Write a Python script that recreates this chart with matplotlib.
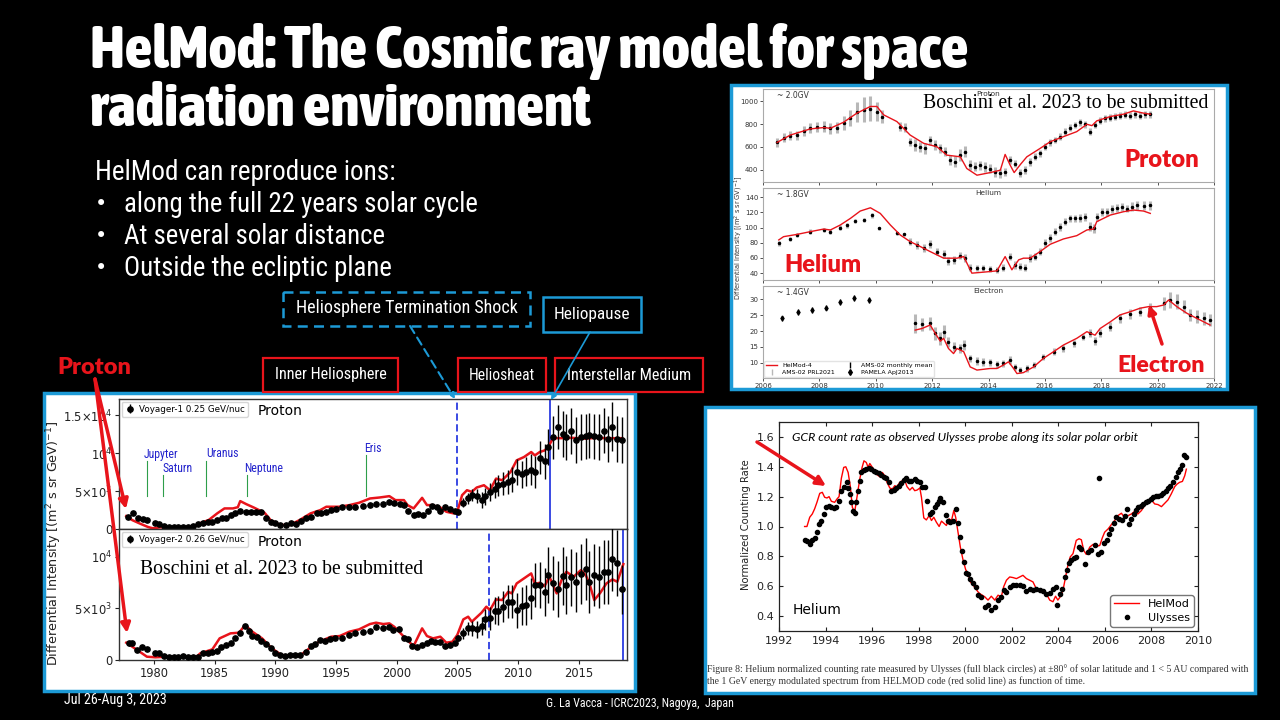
import matplotlib
matplotlib.use('Agg')
import matplotlib.pyplot as plt
from matplotlib.lines import Line2D
from matplotlib.patches import Rectangle
from matplotlib import font_manager
from matplotlib.font_manager import FontProperties

# ---------------- data ----------------
# Voyager-1 (0.25 GeV/nuc)
v1_yr = [1977.87,1978.28,1978.7,1979.04,1979.37,1980.06,1980.4,1980.8,1981.2,1981.6,
         1982.0,1982.4,1982.8,1983.2,1983.6,1984.0,1984.4,1984.8,1985.2,1985.6,
         1985.9,1986.3,1986.7,1987.1,1987.6,1988.0,1988.4,1988.8,1989.2,1989.6,
         1990.0,1990.4,1990.9,1991.3,1991.7,1992.1,1992.5,1992.9,1993.4,1993.8,
         1994.2,1994.6,1995.0,1995.5,1996.1,1996.6,1997.2,1997.8,1998.3,1998.9,
         1999.4,1999.8,2000.3,2000.6,2000.9,2001.4,2001.8,2002.2,2002.6,2002.9,
         2003.3,2003.6,2004.0,2004.4,2004.8,2005.1,2005.5,2005.9,2006.2,2006.6,
         2007.0,2007.3,2007.7,2008.1,2008.4,2008.8,2009.2,2009.5,2009.9,2010.3,
         2010.7,2011.1,2011.4,2011.8,2012.2,2012.5,2012.9,2013.3,2013.7,2014.0,
         2014.4,2014.8,2015.2,2015.6,2015.9,2016.3,2016.7,2017.1,2017.4,2017.8,
         2018.2,2018.6]
v1_val = [1650,2090,1520,1390,1220,780,700,435,350,350,
          350,350,350,435,650,870,910,1000,1220,1435,
          1520,1870,2175,2390,2300,2300,2300,2300,1435,1000,
          780,565,565,870,700,1130,1435,1650,2175,2175,
          2260,2520,2700,2870,2960,2960,3090,3175,3300,3300,
          3610,3390,3300,3175,2435,1870,2000,1870,2435,3045,
          2870,2435,2870,2610,2435,2300,3480,4045,4480,4350,
          3830,4350,4915,5350,5785,6000,6220,6525,7525,7220,
          7525,7830,7525,9400,8960,10790,12090,13400,12530,12090,
          12880,11750,12090,12180,12310,12180,12090,12960,11880,13480,
          11880,11750]
v1_err = [200,200,200,200,200,150,150,150,150,150,
          150,150,150,150,150,150,150,150,150,150,
          150,150,150,150,150,150,150,150,150,150,
          150,150,150,150,150,150,150,150,150,150,
          150,150,150,150,150,150,150,150,150,150,
          150,150,150,150,150,150,150,150,150,150,
          150,150,150,150,150,300,600,700,800,900,
          1000,1100,1200,1300,1400,1500,1600,1600,1700,1800,
          1900,2000,2100,2200,2300,2400,2800,2900,3000,3000,
          3000,3000,3000,3000,3000,3000,3000,3000,3000,3200,
          3000,3000]
v1m_yr = [1977.7,1978.2,1978.9,1979.5,1979.9,1980.5,1981.5,1982.5,1983.3,1983.9,
          1984.5,1985.2,1985.8,1986.5,1986.9,1987.1,1987.6,1988.2,1989.1,1989.6,
          1990.4,1991.2,1992.0,1992.9,1993.7,1994.2,1995.3,1996.1,1996.9,1997.8,
          1998.6,1999.4,1999.9,2000.6,2000.9,2001.4,2002.1,2002.5,2002.9,2003.6,
          2004.1,2004.7,2005.0,2005.4,2005.8,2006.2,2006.6,2007.2,2007.7,2008.2,
          2008.7,2009.4,2009.9,2010.5,2011.1,2011.4,2011.8,2012.2,2012.5,2012.9,
          2013.5,2014.5,2015.5,2016.5,2017.5,2018.6]
v1m_val = [1740,1200,700,300,130,260,260,260,435,870,
           1220,2090,2740,2740,2900,3700,3300,2870,2175,1220,
           565,565,1220,2090,2520,2960,2960,3175,3480,4045,
           4175,4350,3830,3830,3175,2740,4130,3175,3175,2870,
           2300,2090,2300,4480,5130,4915,5480,5785,5130,6655,
           6440,7525,9050,9480,10140,9700,10140,10350,10790,11960,
           11960,12000,11900,12000,11950,11960]

# Voyager-2 (0.26 GeV/nuc)
v2_yr = [1977.9,1978.2,1978.6,1979.0,1979.4,1980.1,1980.4,1980.8,1981.2,1981.6,
         1982.0,1982.4,1982.8,1983.2,1983.6,1984.0,1984.4,1984.8,1985.2,1985.5,
         1985.9,1986.3,1986.7,1987.1,1987.5,1987.8,1988.1,1988.5,1988.8,1989.2,
         1989.6,1990.0,1990.4,1990.8,1991.2,1991.6,1992.0,1992.5,1992.9,1993.3,
         1993.7,1994.1,1994.5,1994.9,1995.5,1996.1,1996.6,1997.2,1997.8,1998.3,
         1998.9,1999.4,1999.7,2000.2,2000.6,2000.9,2001.3,2001.7,2002.1,2002.5,
         2002.8,2003.2,2003.6,2004.0,2004.4,2004.8,2005.1,2005.5,2005.9,2006.2,
         2006.6,2007.0,2007.3,2007.7,2008.1,2008.4,2008.8,2009.2,2009.5,2009.9,
         2010.3,2010.7,2011.1,2011.4,2011.8,2012.2,2012.5,2012.9,2013.3,2013.7,
         2014.0,2014.4,2014.8,2015.2,2015.6,2015.9,2016.3,2016.7,2017.1,2017.4,
         2017.8,2018.2,2018.6]
v2_val = [1610,1610,970,1225,1030,710,710,390,260,320,
          320,390,320,320,320,645,710,805,900,1290,
          1450,1610,2095,2580,3290,2835,2320,2190,1870,1545,
          1130,710,485,390,450,450,485,805,1355,1545,
          1935,1870,2000,2095,2095,2420,2580,2740,2835,3160,
          3060,3160,2900,2965,2095,2000,1355,1290,1450,1610,
          1870,1710,1770,1355,1450,1610,2095,2580,3060,3060,
          2965,3290,3930,4030,4770,4770,5160,5640,5640,4830,
          5220,5320,5960,7250,7250,6600,8220,7480,6865,8120,
          7250,7990,7570,8315,8770,7570,8220,7990,8540,8540,
          9735,9350,6830]
v2_err = [250,200,200,200,200,200,200,200,200,200,
          200,200,200,200,200,200,200,200,200,200,
          200,200,200,200,200,200,200,200,200,200,
          200,200,200,200,200,200,200,200,200,200,
          200,200,200,200,200,200,200,200,200,200,
          200,200,200,200,200,200,200,200,200,200,
          200,200,200,200,200,200,300,500,600,700,
          800,900,1000,1100,1300,1400,1500,1600,1600,1700,
          1800,1900,2000,2100,2200,2300,2700,2600,2700,2800,
          2800,2800,2900,2900,3000,3000,3000,3000,3100,3100,
          3100,3200,2400]
v2m_yr = [1977.7,1978.6,1979.4,1980.1,1981.0,1983.5,1983.8,1984.8,1985.4,1986.3,
          1987.0,1987.5,1988.1,1988.9,1989.7,1990.5,1991.3,1992.1,1992.8,1993.6,
          1994.6,1995.3,1996.1,1996.9,1997.8,1998.3,1998.9,1999.4,1999.8,2000.2,
          2000.8,2001.4,2002.1,2002.5,2003.0,2003.6,2004.1,2004.6,2005.0,2005.5,
          2005.9,2006.2,2007.0,2007.4,2007.7,2008.2,2008.7,2009.2,2009.5,2009.9,
          2011.1,2011.4,2011.8,2012.2,2012.6,2013.2,2013.6,2014.0,2014.6,2015.2,
          2015.6,2015.9,2016.3,2016.8,2017.3,2017.8,2018.2,2018.7]
v2m_val = [1675,970,320,260,320,320,645,1030,2095,2580,
           2640,3385,2740,2095,1130,485,390,485,1130,1770,
           2255,2320,2740,2965,3480,3610,3480,3545,3220,2740,
           2000,1355,3060,2320,2095,2255,1675,1770,2420,3930,
           4190,3705,4575,5160,4830,5865,5800,6600,6445,7410,
           8380,7350,7480,7150,8060,6445,7735,8540,8060,8700,
           8220,7410,5800,6510,7410,7800,7570,9280]

planet_names = ['Jupyter', 'Saturn', 'Uranus', 'Neptune', 'Eris']
planet_years = [1979.4, 1980.75, 1984.3, 1987.66, 1997.45]

# AMS-02 / PAMELA (top-right)
p_yr = [2006.5,2006.73,2006.97,2007.2,2007.44,2007.68,2007.91,2008.15,2008.39,2008.62,
        2008.86,2009.1,2009.33,2009.57,2009.81,2010.04,2010.22,2010.87,2011.05,2011.22,
        2011.4,2011.58,2011.76,2011.93,2012.11,2012.29,2012.47,2012.64,2012.82,2013.0,
        2013.17,2013.35,2013.53,2013.71,2013.88,2014.06,2014.24,2014.42,2014.59,2014.77,
        2014.95,2015.13,2015.3,2015.48,2015.66,2015.83,2016.01,2016.19,2016.37,2016.54,
        2016.72,2016.9,2017.08,2017.25,2017.43,2017.61,2017.78,2017.96,2018.14,2018.32,
        2018.49,2018.67,2018.85,2019.03,2019.2,2019.38,2019.56,2019.74]
p_val = [639,681,699,704,740,764,778,778,764,770,
         808,852,905,926,935,911,867,778,770,645,
         616,601,586,660,616,586,557,483,468,527,
         557,438,424,438,424,409,379,365,379,483,
         453,373,394,468,512,542,601,639,660,690,
         734,770,793,817,799,734,793,829,852,858,
         867,876,882,876,888,876,888,888]
p_err = [40,40,40,40,45,45,45,50,50,50,
         60,70,90,110,110,80,60,40,40,35,
         50,45,45,40,45,40,40,45,50,50,
         50,45,40,40,45,40,45,40,35,35,
         35,35,35,35,30,30,30,30,30,30,
         30,30,30,30,30,30,30,30,30,30,
         30,30,30,30,30,30,30,30]
pm_yr = [2006.5,2006.97,2007.68,2008.15,2008.39,2008.86,2009.33,2009.81,2010.04,2010.28,
         2010.75,2011.22,2011.7,2012.17,2012.52,2013.0,2013.23,2013.59,2014.06,2014.42,
         2014.59,2014.77,2014.91,2015.13,2015.36,2015.83,2016.19,2016.66,2017.13,2017.49,
         2017.67,2017.84,2018.32,2018.79,2019.14,2019.5,2019.74]
pm_val = [639,704,758,770,764,817,897,956,956,882,
          823,704,631,601,527,512,409,350,373,394,
          533,438,373,444,512,586,645,690,734,799,
          787,829,867,888,917,897,888]

h_yr = [2006.56,2006.97,2007.21,2007.68,2008.15,2008.39,2008.74,2008.98,2009.27,2009.57,
        2009.87,2010.1,2010.75,2010.99,2011.22,2011.46,2011.7,2011.93,2012.17,2012.41,
        2012.58,2012.76,2013.0,2013.17,2013.35,2013.59,2013.82,2014.06,2014.3,2014.53,
        2014.77,2014.95,2015.13,2015.3,2015.48,2015.66,2015.83,2016.01,2016.19,2016.37,
        2016.54,2016.72,2016.9,2017.08,2017.25,2017.43,2017.61,2017.73,2017.84,2018.02,
        2018.2,2018.38,2018.55,2018.73,2018.91,2019.09,2019.26,2019.5,2019.74]
h_val = [79.3,85,90,94.6,96.8,94.6,99.8,103,108.6,110,
         116,99,92.4,91,81.5,77,72.7,78,68.4,65,
         56.2,57.5,63,59.7,47.4,46.5,46.5,45.7,44.4,47.4,
         61.8,51,48.7,47.4,59.7,61.8,68.4,79.3,85.9,94.6,
         101,107.7,112,112,112.9,114,101,99,114,120.8,
         120.8,124.3,126,127.3,125,127.3,129.5,128.6,129.5]
h_err = [3,3,3,3,3,3,3,3,3,3,
         3,2,2,2,5,5,5,5,5,5,
         5,5,5,5,4,4,4,4,4,4,
         5,5,5,5,5,5,5,5,5,5,
         5,5,5,5,5,5,6,6,5,5,
         5,5,5,5,5,6,6,6,6]
hm_yr = [2006.56,2006.73,2007.21,2007.68,2008.15,2008.39,2008.74,2009.1,2009.45,2009.81,
         2010.16,2010.52,2010.87,2011.22,2011.58,2011.93,2012.41,2012.88,2013.12,2013.41,
         2013.82,2014.3,2014.59,2014.83,2015.07,2015.24,2015.48,2015.83,2016.19,2016.66,
         2017.13,2017.49,2017.73,2017.84,2018.32,2018.79,2019.14,2019.5,2019.74]
hm_val = [83.7,88,91,94.6,98,96.8,103.3,112,121.7,126,
          118.6,103.3,90.2,81.5,75,68.4,59.7,59.7,61.8,40,
          41.3,43,61.8,44.4,57.5,59.7,59.7,68.4,78,85,
          89.3,96.8,98,107.7,116.4,120.8,123,121.7,118.6]

pam_e_yr = [2006.67,2007.23,2007.74,2008.25,2008.74,2009.24,2009.75]
pam_e_val = [24.0,26.1,26.6,27.4,29.1,30.5,29.8]
pam_e_err = [0.9,0.9,0.9,0.9,0.9,0.9,0.9]
e_yr = [2011.40,2011.64,2011.93,2012.11,2012.29,2012.41,2012.58,2012.76,2013.0,2013.12,
        2013.35,2013.59,2013.82,2014.06,2014.3,2014.53,2014.77,2014.95,2015.13,2015.36,
        2015.6,2015.95,2016.31,2016.66,2017.02,2017.37,2017.61,2017.78,2017.96,2018.32,
        2018.67,2019.03,2019.38,2019.74,2020.21,2020.44,2020.68,2020.92,2021.15,2021.39,
        2021.63,2021.86]
e_val = [22.4,22.1,22.4,19.3,17.7,19.8,16.6,15.1,14.5,15.6,
         11.4,10.5,10.3,10.1,9.5,9.8,10.8,8.7,7.7,8.2,
         9.3,11.9,13.5,14.5,16.1,18.2,19.3,16.8,19.3,21.4,
         24.0,25.3,26.1,27.4,28.7,29.8,29.3,27.7,25.1,24.5,
         24.0,23.5]
e_err = [3.0,2.0,2.0,2.0,2.0,2.0,1.5,1.5,1.5,1.5,
         1.2,1.2,1.2,1.2,1.2,1.2,1.2,1.0,1.0,1.0,
         1.0,1.0,1.0,1.0,1.0,1.0,1.2,1.2,1.2,1.3,
         1.5,1.5,1.5,1.5,2.0,2.5,2.5,2.0,2.0,2.0,
         2.0,2.0]
em_yr = [2011.4,2011.64,2011.93,2012.11,2012.29,2012.41,2012.58,2012.76,2012.88,2013.12,
         2013.35,2013.59,2014.06,2014.3,2014.53,2014.71,2014.89,2015.01,2015.24,2015.6,
         2015.95,2016.31,2016.66,2017.13,2017.49,2017.78,2017.96,2018.32,2018.67,2019.03,
         2019.38,2019.68,2019.97,2020.21,2020.39,2020.68,2021.04,2021.39,2021.75,2021.86]
em_val = [20.3,20.8,21.9,19.3,16.8,17.7,14.5,12.9,14.5,13.5,
          8.7,7.7,8.2,8.2,9.3,10.3,8.2,6.6,6.9,8.7,
          11.4,13.5,15.6,17.7,19.8,18.7,20.8,22.9,25.1,26.1,
          27.2,27.7,27.7,28.2,29.8,27.7,25.6,24.0,22.4,21.9]

# Ulysses helium counting rate
uo_yr = [1993.10,1993.2,1993.32,1993.43,1993.53,1993.63,1993.72,1993.82,1993.92,1994.03,
         1994.15,1994.25,1994.35,1994.46,1994.58,1994.68,1994.78,1994.9,1994.97,1995.04,
         1995.11,1995.18,1995.25,1995.32,1995.4,1995.47,1995.54,1995.64,1995.75,1995.87,
         1995.97,1996.07,1996.18,1996.3,1996.4,1996.5,1996.61,1996.73,1996.83,1996.93,
         1997.04,1997.16,1997.26,1997.36,1997.47,1997.59,1997.69,1997.83,1997.93,1998.05,
         1998.16,1998.26,1998.36,1998.48,1998.59,1998.69,1998.79,1998.88,1998.93,1999.05,
         1999.16,1999.26,1999.36,1999.48,1999.59,1999.69,1999.79,1999.88,1999.94,2000.02,
         2000.12,2000.22,2000.34,2000.45,2000.55,2000.69,2000.83,2000.98,2001.12,2001.27,
         2001.41,2001.55,2001.65,2001.77,2001.91,2002.05,2002.2,2002.34,2002.48,2002.63,
         2002.77,2002.91,2003.05,2003.2,2003.34,2003.48,2003.63,2003.77,2003.88,2003.94,
         2004.06,2004.17,2004.27,2004.37,2004.46,2004.56,2004.66,2004.78,2004.89,2004.99,
         2005.14,2005.28,2005.42,2005.57,2005.71,2005.75,2005.85,2005.95,2006.07,2006.18,
         2006.28,2006.38,2006.49,2006.61,2006.75,2006.85,2006.93,2007.04,2007.14,2007.24,
         2007.33,2007.43,2007.53,2007.65,2007.76,2007.86,2007.96,2008.08,2008.19,2008.29,
         2008.39,2008.5,2008.61,2008.71,2008.81,2008.93,2009.04,2009.14,2009.24,2009.33,
         2009.39,2009.48]
uo_val = [0.911,0.902,0.88,0.907,0.924,0.962,1.018,1.036,1.084,1.129,
          1.14,1.133,1.124,1.133,1.173,1.236,1.267,1.296,1.258,1.218,
          1.162,1.107,1.089,1.162,1.24,1.307,1.362,1.378,1.384,1.391,
          1.384,1.373,1.362,1.356,1.347,1.333,1.324,1.296,1.236,1.244,
          1.258,1.273,1.289,1.311,1.324,1.307,1.302,1.318,1.307,1.296,
          1.267,1.267,1.173,1.084,1.096,1.133,1.151,1.173,1.191,1.162,
          1.08,1.036,1.029,1.036,1.118,1.022,0.933,0.836,0.762,0.689,
          0.684,0.651,0.622,0.596,0.54,0.529,0.462,0.473,0.44,0.462,
          0.507,0.529,0.573,0.562,0.596,0.607,0.607,0.607,0.6,0.569,
          0.578,0.573,0.584,0.573,0.569,0.551,0.556,0.578,0.596,0.473,
          0.551,0.578,0.662,0.707,0.756,0.778,0.791,0.796,0.862,0.851,
          0.751,0.829,0.84,0.873,0.818,1.324,0.829,0.889,0.911,0.951,
          0.984,1.022,1.062,1.051,1.044,1.073,1.118,1.018,1.051,1.084,
          1.111,1.129,1.14,1.151,1.162,1.173,1.184,1.196,1.207,1.207,
          1.213,1.222,1.24,1.258,1.273,1.296,1.329,1.362,1.384,1.413,
          1.48,1.467]
um_yr = [1993.10,1993.20,1993.32,1993.43,1993.53,1993.63,1993.75,1993.86,1993.96,1994.06,
         1994.15,1994.25,1994.39,1994.49,1994.58,1994.68,1994.78,1994.87,1994.97,1995.07,
         1995.15,1995.25,1995.35,1995.47,1995.57,1995.65,1995.75,1995.83,1995.9,1996.01,
         1996.11,1996.21,1996.33,1996.44,1996.54,1996.64,1996.76,1996.87,1996.97,1997.07,
         1997.19,1997.3,1997.4,1997.5,1997.62,1997.73,1997.83,1997.93,1998.05,1998.12,
         1998.22,1998.33,1998.45,1998.55,1998.65,1998.76,1998.88,1998.98,1999.08,1999.19,
         1999.31,1999.41,1999.51,1999.59,1999.69,1999.79,1999.91,2000.02,2000.12,2000.22,
         2000.34,2000.45,2000.55,
         2000.62,2000.84,2000.98,2001.12,2001.27,2001.41,2001.55,2001.65,2001.77,2001.91,
         2002.05,2002.2,2002.34,2002.48,2002.63,2002.77,2002.91,2003.05,2003.2,2003.34,
         2003.48,2003.63,2003.77,2003.88,2003.98,2004.08,2004.2,2004.31,2004.41,2004.51,
         2004.63,2004.77,2004.89,2004.99,2005.09,2005.2,2005.35,2005.49,2005.63,2005.78,
         2005.89,2005.99,2006.14,2006.28,2006.42,2006.56,2006.71,2006.85,2007.0,2007.14,
         2007.28,2007.42,2007.57,2007.71,2007.85,2008.0,2008.14,2008.28,2008.43,2008.57,
         2008.71,2008.85,2009.0,2009.1,2009.21,2009.33,2009.43,2009.5]
um_val = [1.0,1.0,1.062,1.084,1.118,1.162,1.222,1.229,1.196,1.191,
          1.2,1.169,1.162,1.184,1.2,1.324,1.396,1.4,1.362,1.262,
          1.129,1.096,1.196,1.318,1.396,1.44,1.429,1.396,1.422,1.396,
          1.373,1.347,1.333,1.362,1.34,1.296,1.258,1.251,1.273,1.267,
          1.296,1.307,1.311,1.267,1.244,1.262,1.24,1.244,1.258,1.196,
          1.058,1.044,1.073,1.04,1.062,1.029,1.0,1.036,1.022,1.007,
          1.051,1.04,1.107,1.062,0.962,0.862,0.773,0.711,0.684,0.629,
          0.607,0.584,0.562,
          0.551,0.529,0.507,0.533,0.507,0.54,0.529,0.596,0.64,0.662,
          0.658,0.651,0.662,0.673,0.651,0.64,0.629,0.584,0.573,0.556,
          0.551,0.507,0.496,0.533,0.507,0.529,0.573,0.662,0.74,0.796,
          0.818,0.907,0.918,0.911,0.84,0.813,0.862,0.88,0.867,0.873,
          0.924,0.962,0.984,1.013,1.04,1.073,1.089,1.058,1.073,1.084,
          1.102,1.084,1.107,1.14,1.173,1.178,1.151,1.147,1.133,1.156,
          1.178,1.218,1.267,1.284,1.296,1.302,1.34,1.384]

# ---------------- fonts ----------------
CONDENSED = ('condensed', 'semi-condensed', 'extra-condensed', 'ultra-condensed')


def _weight(f):
    w = f.weight
    if isinstance(w, str):
        w = font_manager.weight_dict.get(w, 400)
    return w


def pick_narrow(bold):
    pref = ['Liberation Sans Narrow', 'Roboto Condensed', 'Open Sans Condensed',
            'Noto Sans', 'DejaVu Sans', 'Roboto', 'Open Sans', 'Lato', 'Inter']
    best, best_score = None, None
    for f in font_manager.fontManager.ttflist:
        if f.style != 'normal':
            continue
        nm = f.name + ' ' + f.fname
        cond = (f.stretch in CONDENSED) or ('Narrow' in nm) or ('Condensed' in nm) \
            or ('Cond' in nm)
        if not cond:
            continue
        w = _weight(f)
        fam_rank = next((i for i, p in enumerate(pref) if f.name.startswith(p)), len(pref))
        if bold:
            score = (0 if w >= 700 else 1, -w if w <= 800 else w, fam_rank)
        else:
            score = (abs(w - 400), fam_rank)
        if best_score is None or score < best_score:
            best, best_score = f, score
    if best is None:
        return FontProperties(family='DejaVu Sans', weight='bold' if bold else 'normal')
    return FontProperties(fname=best.fname)


NARROW = pick_narrow(False)
NARROWB = pick_narrow(True)
names = {f.name for f in font_manager.fontManager.ttflist}
SERIF = 'Liberation Serif' if 'Liberation Serif' in names else 'DejaVu Serif'
BOLDF = 'Lato' if 'Lato' in names else 'DejaVu Sans'

RED = '#e8141b'
BLUE = '#1c9ad6'
W, H = 1280, 720

fig = plt.figure(figsize=(12.8, 7.2), dpi=100, facecolor='black')
renderer = fig.canvas.get_renderer()


def fit(t, size):
    """scale font so the text spans `size` pixels (width, or height if rotated)."""
    bb = t.get_window_extent(renderer)
    cur = bb.height if t.get_rotation() in (90, 270) else bb.width
    if cur > 0:
        t.set_fontsize(t.get_fontsize() * size / cur)
    return t


def frect(x0, y0, x1, y1):
    return [x0 / W, 1 - y1 / H, (x1 - x0) / W, (y1 - y0) / H]


def pairs(a, b):
    n = min(len(a), len(b))
    return a[:n], b[:n]


# background panels
bg = fig.add_axes([0, 0, 1, 1], zorder=0)
bg.set_xlim(0, W); bg.set_ylim(H, 0); bg.axis('off')
for (x0, y0, x1, y1) in [(44, 393, 635, 691), (731, 85, 1227, 389), (705, 407, 1255, 693)]:
    bg.add_patch(Rectangle((x0, y0), x1 - x0, y1 - y0, facecolor='white', edgecolor=BLUE, lw=2.5))

# ---------------- Voyager panels ----------------
ax1 = fig.add_axes(frect(119, 399, 627, 529.3), zorder=2)
ax2 = fig.add_axes(frect(119, 529.3, 627, 660), zorder=2)
for ax in (ax1, ax2):
    ax.set_xlim(1977.1, 2019.0)
    ax.set_xticks([1980, 1985, 1990, 1995, 2000, 2005, 2010, 2015])
    ax.tick_params(labelsize=8.3, length=3, width=0.8, colors='#222222', pad=2)
    for s in ax.spines.values():
        s.set_color('#333333'); s.set_linewidth(1.0)
ax1.tick_params(labelbottom=False)
ax1.set_ylim(0, 17100)
ax2.set_ylim(0, 12650)
ax1.set_yticks([0, 5000, 10000, 15000])
ax1.set_yticklabels(['0', r'$5{\times}10^3$', r'$10^4$', r'$1.5{\times}10^4$'])
ax2.set_yticks([0, 5000, 10000])
ax2.set_yticklabels(['0', r'$5{\times}10^3$', r'$10^4$'])

x, y = pairs(v1m_yr, v1m_val)
ax1.plot(x, y, color=RED, lw=1.8, zorder=3)
n = min(len(v1_yr), len(v1_val), len(v1_err))
e1 = ax1.errorbar(v1_yr[:n], v1_val[:n], yerr=v1_err[:n], fmt='o', color='black', ms=3.8,
                  elinewidth=1.0, capsize=0, zorder=4)
x, y = pairs(v2m_yr, v2m_val)
ax2.plot(x, y, color=RED, lw=1.8, zorder=3)
n = min(len(v2_yr), len(v2_val), len(v2_err))
e2 = ax2.errorbar(v2_yr[:n], v2_val[:n], yerr=v2_err[:n], fmt='o', color='black', ms=3.8,
                  elinewidth=1.0, capsize=0, zorder=4)

for ax, h, lab in [(ax1, e1, 'Voyager-1 0.25 GeV/nuc'), (ax2, e2, 'Voyager-2 0.26 GeV/nuc')]:
    ax.legend([h], [lab], loc='upper left', fontsize=6.3, frameon=True,
              borderpad=0.35, handletextpad=0.4, handlelength=1.2, borderaxespad=0.3,
              edgecolor='#cccccc', fancybox=True)
    ax.text(0.272, 0.905, 'Proton', transform=ax.transAxes, fontsize=10, va='center')

# heliosphere boundaries
ax1.axvline(2004.94, color='#2b3be0', lw=1.3, ls=(0, (4, 2)))
ax1.axvline(2012.63, color='#2b3be0', lw=1.3)
ax2.axvline(2007.6, color='#2b3be0', lw=1.3, ls=(0, (4, 2)))
ax2.axvline(2018.7, color='#2b3be0', lw=1.3)

# planets
p_top = [8950, 7090, 8950, 7090, 9700]
p_lab = [9830, 7960, 9990, 7960, 10610]
p_dx = [1.2, 1.2, 1.3, 1.4, 0.6]
for nm, yr, tp, lb, dx in zip(planet_names, planet_years, p_top, p_lab, p_dx):
    ax1.plot([yr, yr], [4350, tp], color='#2e9e4a', lw=0.8)
    t = ax1.text(yr + dx, lb, nm, color='#2222cc', fontproperties=NARROW,
                 ha='center', va='center')
    t.set_fontsize(8.5)

# ---------------- AMS-02 panels ----------------
a1 = fig.add_axes(frect(763, 89, 1214, 182), zorder=2)
a2 = fig.add_axes(frect(763, 188, 1214, 280), zorder=2)
a3 = fig.add_axes(frect(763, 286, 1214, 378), zorder=2)
for ax in (a1, a2, a3):
    ax.set_xlim(2006, 2022)
    ax.set_xticks(range(2006, 2023, 2))
    ax.tick_params(labelsize=5, length=2, width=0.6, colors='#333333', pad=1.5)
    for s in ax.spines.values():
        s.set_color('#aaaaaa'); s.set_linewidth(0.8)
a1.tick_params(labelbottom=False)
a2.tick_params(labelbottom=False)
a1.set_ylim(290, 1110); a1.set_yticks([400, 600, 800, 1000])
a2.set_ylim(31, 152); a2.set_yticks([40, 60, 80, 100, 120, 140])
a3.set_ylim(5.2, 34.2); a3.set_yticks([10, 15, 20, 25, 30])

GRAY = '#b8b8b8'
n = min(len(p_yr), len(p_val), len(p_err))
a1.errorbar(p_yr[:n], p_val[:n], yerr=p_err[:n], fmt='none', ecolor=GRAY, elinewidth=2.2)
a1.plot(p_yr[:n], p_val[:n], 'o', color='black', ms=1.5)
x, y = pairs(pm_yr, pm_val)
a1.plot(x, y, color=RED, lw=1.0)

n = min(len(h_yr), len(h_val), len(h_err))
a2.errorbar(h_yr[:n], h_val[:n], yerr=h_err[:n], fmt='none', ecolor=GRAY, elinewidth=2.2)
a2.plot(h_yr[:n], h_val[:n], 'o', color='black', ms=1.5)
x, y = pairs(hm_yr, hm_val)
a2.plot(x, y, color=RED, lw=1.0)

n = min(len(e_yr), len(e_val), len(e_err))
a3.errorbar(e_yr[:n], e_val[:n], yerr=e_err[:n], fmt='none', ecolor=GRAY, elinewidth=2.2)
a3.plot(e_yr[:n], e_val[:n], 'o', color='black', ms=1.5)
a3.errorbar(pam_e_yr, pam_e_val, yerr=pam_e_err, fmt='d', color='black', ms=2.5,
            elinewidth=0.9, capsize=0)
x, y = pairs(em_yr, em_val)
a3.plot(x, y, color=RED, lw=1.0)

for ax, gv, nm in [(a1, '~ 2.0GV', 'Proton'), (a2, '~ 1.8GV', 'Helium'), (a3, '~ 1.4GV', 'Electron')]:
    ax.text(0.03, 0.93, gv, transform=ax.transAxes, fontsize=5.5, va='center', color='#333333')
    ax.text(0.5, 0.95, nm, transform=ax.transAxes, fontsize=5.3, va='center', ha='center',
            color='#333333')

leg_h = [Line2D([], [], color=RED, lw=1.0),
         Line2D([], [], color=GRAY, marker='|', ls='none', ms=5),
         Line2D([], [], color='black', marker='|', ls='none', ms=5),
         Line2D([], [], color='black', marker='d', ls='none', ms=3)]
a3.legend(leg_h, ['HelMod-4', 'AMS-02 PRL2021', 'AMS-02 monthly mean', 'PAMELA ApJ2013'],
          ncol=2, loc='lower left', fontsize=4.5, frameon=True, edgecolor='#dddddd',
          borderpad=0.3, handlelength=1.8, columnspacing=1.5, labelspacing=0.2,
          borderaxespad=0.2)

# ---------------- Ulysses panel ----------------
u = fig.add_axes(frect(779, 422, 1198, 631), zorder=2)
u.set_xlim(1992, 2010); u.set_ylim(0.3, 1.7)
u.set_xticks(range(1992, 2011, 2))
u.set_yticks([0.4, 0.6, 0.8, 1.0, 1.2, 1.4, 1.6])
u.tick_params(direction='in', top=True, right=True, labelsize=8, length=3, width=0.8,
              colors='#222222')
for s in u.spines.values():
    s.set_color('#222222'); s.set_linewidth(0.9)
x, y = pairs(um_yr, um_val)
u.plot(x, y, color='red', lw=1.0, label='HelMod')
x, y = pairs(uo_yr, uo_val)
u.plot(x, y, 'o', color='black', ms=3.0, ls='none', label='Ulysses')
u.legend(loc='lower right', fontsize=8, frameon=True, edgecolor='#555555',
         borderpad=0.35, handlelength=2.2, borderaxespad=0.4, labelspacing=0.3)
fit(u.text(0.03, 0.925, 'GCR count rate as observed Ulysses probe along its solar polar orbit',
           transform=u.transAxes, fontsize=8.3, style='italic', family=BOLDF, va='center'), 347)
u.text(0.032, 0.10, 'Helium', transform=u.transAxes, fontsize=10, va='center')

# ---------------- overlay texts / annotations ----------------
ov = fig.add_axes([0, 0, 1, 1], zorder=5)
ov.set_xlim(0, W); ov.set_ylim(H, 0); ov.axis('off')
ov.patch.set_alpha(0)


def otext(x, y, s, fp, width=None, size=12, **kw):
    t = ov.text(x, y, s, fontproperties=fp, **kw)
    t.set_fontsize(size)
    if width:
        fit(t, width)
    return t


t1 = otext(90, 52, 'HelMod: The Cosmic ray model for space', NARROWB, 878, 36,
           color='white', va='center', ha='left')
otext(90, 110, 'radiation environment', NARROWB, None, t1.get_fontsize(),
      color='white', va='center', ha='left')

tb = otext(95, 172, 'HelMod can reproduce ions:', NARROW, 300, 19, color='white', va='center')
tb2 = otext(124, 204, 'along the full 22 years solar cycle', NARROW, 355, 19,
            color='white', va='center')
bfs = tb2.get_fontsize()
otext(124, 236, 'At several solar distance', NARROW, None, bfs, color='white', va='center')
otext(124, 268, 'Outside the ecliptic plane', NARROW, None, bfs, color='white', va='center')
for yy in (204, 236, 268):
    ov.text(101, yy, '\u2022', color='white', fontsize=15, va='center', ha='center')

# region boxes
ov.add_patch(Rectangle((283, 292), 247, 34, fill=False, edgecolor=BLUE, lw=1.8, ls=(0, (4, 2.5))))
otext(407, 308, 'Heliosphere Termination Shock', NARROW, 222, 12, color='white',
      ha='center', va='center')
ov.add_patch(Rectangle((543, 297), 98, 35, fill=False, edgecolor=BLUE, lw=1.8))
otext(592, 314, 'Heliopause', NARROW, 76, 12, color='white', ha='center', va='center')
for (x0, x1, t, w) in [(263, 398, 'Inner Heliosphere', 113), (458, 546, 'Heliosheat', 66),
                       (555, 703, 'Interstellar Medium', 124)]:
    ov.add_patch(Rectangle((x0, 358), x1 - x0, 34, fill=False, edgecolor=RED, lw=1.6))
    otext((x0 + x1) / 2, 375, t, NARROW, w, 12, color='white', ha='center', va='center')
ov.annotate('', xy=(455, 399), xytext=(410, 326),
            arrowprops=dict(arrowstyle='-|>', color=BLUE, lw=1.5, ls=(0, (4, 2.5)),
                            mutation_scale=8, shrinkA=0, shrinkB=0))
ov.annotate('', xy=(551, 400), xytext=(590, 332),
            arrowprops=dict(arrowstyle='-|>', color=BLUE, lw=1.2, mutation_scale=8,
                            shrinkA=0, shrinkB=0))

# red labels + arrows
fit(ov.text(94, 367, 'Proton', color=RED, fontsize=15, family=BOLDF, weight='heavy',
            ha='center', va='center'), 74)
for tip in [(126, 509), (127, 633)]:
    ov.annotate('', xy=tip, xytext=(95, 379),
                arrowprops=dict(arrowstyle='-|>', color=RED, lw=2.5, mutation_scale=14,
                                shrinkA=0, shrinkB=0))
fit(ov.text(1162, 160, 'Proton', color=RED, fontsize=16, family=BOLDF, weight='heavy',
            ha='center', va='center'), 75)
fit(ov.text(823, 265, 'Helium', color=RED, fontsize=16, family=BOLDF, weight='heavy',
            ha='center', va='center'), 77)
fit(ov.text(1161, 366, 'Electron', color=RED, fontsize=16, family=BOLDF, weight='heavy',
            ha='center', va='center'), 87)
ov.annotate('', xy=(1149, 305), xytext=(1162, 344),
            arrowprops=dict(arrowstyle='-|>', color=RED, lw=2.5, mutation_scale=12,
                            shrinkA=0, shrinkB=0))
ov.annotate('', xy=(826, 486), xytext=(757, 442),
            arrowprops=dict(arrowstyle='-|>', color=RED, lw=2.5, mutation_scale=14,
                            shrinkA=0, shrinkB=0))

# serif citations
fit(ov.text(923, 104, 'Boschini et al. 2023 to be submitted', fontsize=12.5, family=SERIF,
            va='center', ha='left', color='black'), 285)
fit(ov.text(140, 570, 'Boschini et al. 2023 to be submitted', fontsize=12.5, family=SERIF,
            va='center', ha='left', color='black'), 284)

# axis labels for stacked panels
fit(ov.text(54, 543, 'Differential Intensity [(m$^2$ s sr GeV)$^{-1}$]', rotation=90,
            fontsize=10.5, ha='center', va='center', color='#222222'), 247)
fit(ov.text(739, 238, 'Differential Intensity [(m$^2$ s sr GV)$^{-1}$]', rotation=90,
            fontsize=5.5, ha='center', va='center', color='#333333'), 125)
fit(ov.text(746, 525, 'Normalized Counting Rate', rotation=90, fontsize=7.5,
            ha='center', va='center', color='#222222'), 132)

# caption Ulysses
tc = fit(ov.text(707, 670, 'Figure 8: Helium normalized counting rate measured by Ulysses '
                 '(full black circles) at \u00b180\u00b0 of solar latitude and 1 < 5 AU compared with',
                 fontsize=6.2, family=SERIF, va='center', color='#333333'), 540)
ov.text(707, 681, 'the 1 GeV energy modulated spectrum from HELMOD code (red solid line) '
        'as function of time.', fontsize=tc.get_fontsize(), family=SERIF, va='center',
        color='#333333')

# footer
otext(64, 700, 'Jul 26-Aug 3, 2023', NARROW, 103, 9.5, color='white', va='center')
otext(546, 704, 'G. La Vacca - ICRC2023, Nagoya,  Japan', NARROW, 189, 8,
      color='white', va='center')

fig.savefig('out.png', dpi=100, facecolor='black')
